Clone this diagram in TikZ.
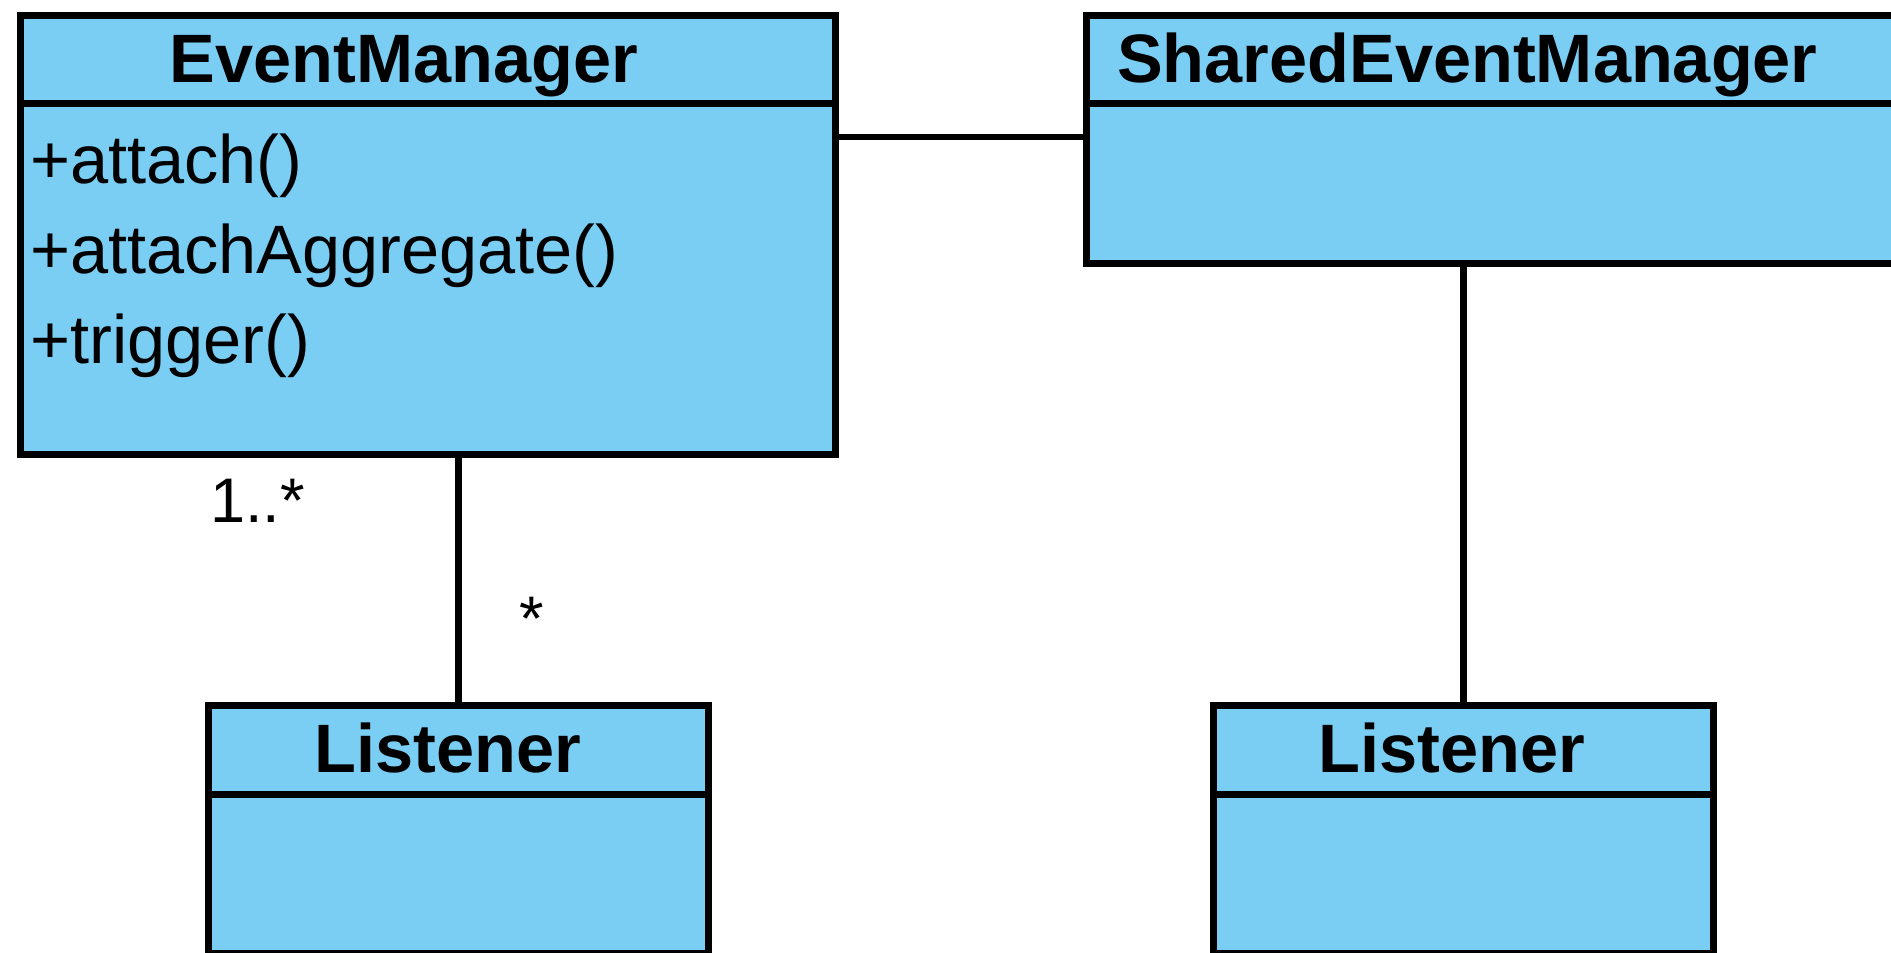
\documentclass[tikz,border=0pt]{standalone}
\usepackage{fontspec}
\setmainfont{Liberation Sans}
\definecolor{umlblue}{RGB}{122,206,244}
\begin{document}
\begin{tikzpicture}[x=1pt,y=-1pt,
  box/.style={draw=black, fill=umlblue, line width=6.5pt, rectangle, inner sep=0pt, anchor=north west},
  link/.style={draw=black, line width=6.5pt},
  title/.style={font=\fontsize{68.5}{80}\selectfont\bfseries, inner sep=0pt, anchor=base},
  member/.style={font=\fontsize{68.5}{80}\selectfont, inner sep=0pt, anchor=base west},
  mult/.style={font=\fontsize{63}{70}\selectfont, inner sep=0pt}]
\useasboundingbox (0,0) rectangle (1891,953);
\coordinate (hy) at (0,137);
% EventManager
\node[box, minimum width=815pt, minimum height=439pt] (em) at (17,12) {};
\node[box, minimum width=815pt, minimum height=88pt] (emh) at (17,12) {};
\node[title] (emt) at (404,82) {EventManager};
\node[member] (m1) at (30,183) {+attach()};
\node[member] (m2) at (30,273) {+attachAggregate()};
\node[member] (m3) at (30,363) {+trigger()};
% SharedEventManager
\node[box, minimum width=900pt, minimum height=248pt] (sem) at (1083,12) {};
\node[box, minimum width=900pt, minimum height=88pt] (semh) at (1083,12) {};
\node[title, anchor=base west] (semt) at (1117,82) {SharedEventManager};
% Listeners
\node[box, minimum width=500pt, minimum height=248pt] (l1) at (205,702) {};
\node[box, minimum width=500pt, minimum height=89pt] (l1h) at (205,702) {};
\node[title] (l1t) at (448,772) {Listener};
\node[box, minimum width=500pt, minimum height=248pt] (l2) at (1210,702) {};
\node[box, minimum width=500pt, minimum height=89pt] (l2h) at (1210,702) {};
\node[title] (l2t) at (1452,772) {Listener};
% connectors
\draw[link] (em.east |- hy) -- (sem.west |- hy);
\draw[link] (l1h.north |- em.south) -- (l1h.north);
\draw[link] (l2h.north |- sem.south) -- (l2h.north);
% multiplicities
\node[mult, anchor=base west] (mu1) at (210,522) {1..*};
\node[mult, anchor=north] (mu2) at (532,597) {*};
\end{tikzpicture}
\end{document}
